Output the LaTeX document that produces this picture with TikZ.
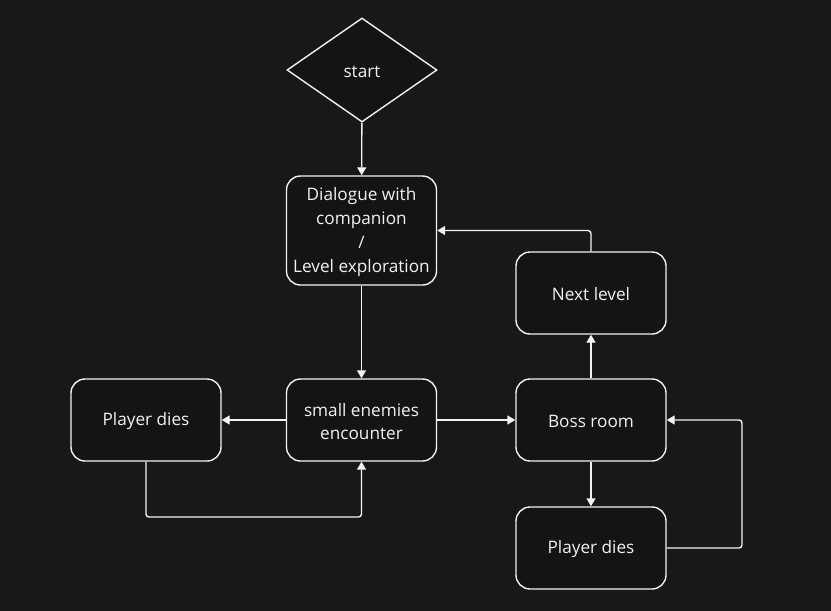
\documentclass[tikz,border=0pt]{standalone}
\usepackage{fontspec}
\setmainfont{Open Sans}
\usetikzlibrary{shapes.geometric,arrows.meta}
\definecolor{bg}{HTML}{181818}
\definecolor{boxfill}{HTML}{141414}
\definecolor{ink}{HTML}{F2F2F2}
\tikzset{
  x=1pt,y=-1pt,
  every node/.style={text=ink,font=\fontsize{17.2}{23.7}\selectfont},
  box/.style={draw=ink,fill=boxfill,line width=1.4pt,rounded corners=14pt,
    minimum width=150pt,minimum height=82pt,align=center,inner sep=0pt},
  decision/.style={draw=ink,fill=boxfill,line width=1.4pt,diamond,aspect=1.44,
    minimum width=150pt,minimum height=104pt,inner sep=0pt},
  link/.style={draw=ink,line width=1.4pt,-{Triangle[length=8pt,width=9pt]}},
  lbl/.style={yshift=-1.5pt},
}
\begin{document}
\begin{tikzpicture}
\fill[bg] (0,0) rectangle (831,611);
\useasboundingbox (0,0) rectangle (831,611);
\node[decision] (start) at (362,70) {};
\node[lbl] at (start.center) {start};
\node[box,minimum height=109pt] (dlg) at (361.5,230.5) {};
\node[lbl,align=center] at (dlg.center) {Dialogue with\\companion\\/\\Level exploration};
\node[box] (next) at (591,293) {};
\node[lbl] at (next.center) {Next level};
\node[box] (pd1) at (146,420) {};
\node[lbl] at (pd1.center) {Player dies};
\node[box] (small) at (361.5,420) {};
\node[lbl,align=center] at (small.center) {small enemies\\encounter};
\node[box] (boss) at (591,420) {};
\node[lbl] at (boss.center) {Boss room};
\node[box] (pd2) at (591,548) {};
\node[lbl] at (pd2.center) {Player dies};
\coordinate (c1) at (146,517);
\coordinate (c2) at (361.5,517);
\coordinate (c3) at (591,230.5);
\coordinate (c4) at (742,548);
\coordinate (c5) at (742,420);
\draw[link] (start) -- (dlg);
\draw[link] (dlg) -- (small);
\draw[link] (small) -- (pd1);
\draw[link,rounded corners=3pt] (pd1.south) -- (c1) -- (c2) -- (small.south);
\draw[link] (small) -- (boss);
\draw[link] (boss) -- (next);
\draw[link,rounded corners=3pt] (next.north) -- (c3) -- (dlg.east);
\draw[link] (boss) -- (pd2);
\draw[link,rounded corners=3pt] (pd2.east) -- (c4) -- (c5) -- (boss.east);
\end{tikzpicture}
\end{document}
